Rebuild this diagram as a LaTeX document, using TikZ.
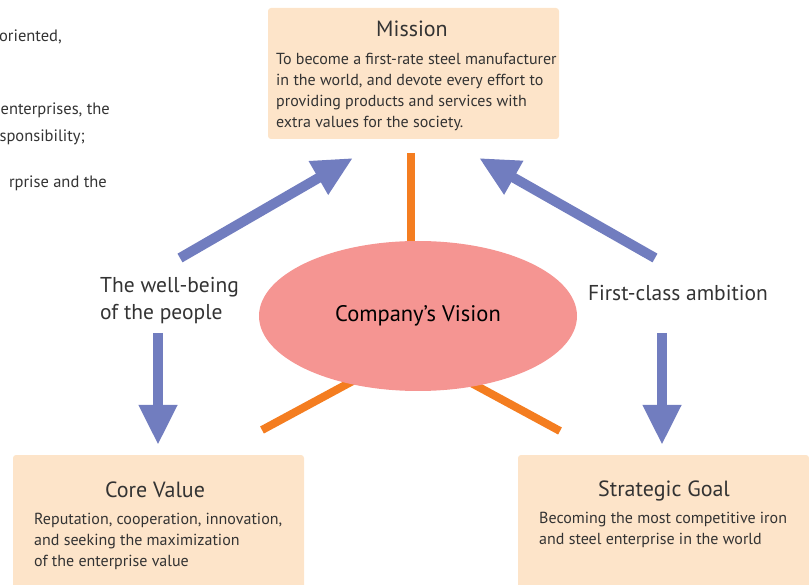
\documentclass[tikz,border=0pt]{standalone}
\usepackage{fontspec}
\setmainfont{PT Sans}
\usetikzlibrary{arrows.meta,shapes.geometric,backgrounds}
\definecolor{boxpeach}{HTML}{FDE4C9}
\definecolor{visionpink}{HTML}{F59592}
\definecolor{linkorange}{HTML}{F47D20}
\definecolor{arrowblue}{HTML}{717DBF}
\definecolor{textgray}{HTML}{333333}

\begin{document}
\begin{tikzpicture}[x=1pt,y=-1pt,
  box node/.style={fill=boxpeach,rounded corners=3pt,minimum width=291pt,minimum height=131pt,inner sep=0pt},
  title node/.style={anchor=base,inner sep=0pt,text=textgray,font=\fontsize{22}{26}\selectfont},
  body node/.style={anchor=base west,inner sep=0pt,align=left,text=textgray,font=\fontsize{16}{21}\selectfont},
  label node/.style={anchor=base west,inner sep=0pt,align=left,text=textgray,font=\fontsize{21.5}{28}\selectfont},
  side node/.style={anchor=base east,inner sep=0pt,text=textgray,font=\fontsize{16.5}{18}\selectfont},
  blue arrow/.style={draw=arrowblue,line width=10pt,-{Triangle[length=40pt,width=36pt]}},
  orange line/.style={draw=linkorange,line width=8pt}]

  \useasboundingbox (0,0) rectangle (809,585);
  \clip (0,0) rectangle (809,585);

  % cut-off text on the left
  \node[side node] (side1) at (62,41.7) {oriented,};
  \node[side node] (side2) at (110,115) {enterprises, the};
  \node[side node] (side3) at (85,141.7) {sponsibility;};
  \node[side node] (side4) at (107,188) {rprise and the};

  % boxes (multi-line texts placed by their last baseline)
  \node[box node] (mission) at (413.5,73.5) {};
  \node[title node] (missiontitle) at (412,37) {Mission};
  \node[body node] (missiontext) at (276,128) {To become a first-rate steel manufacturer\\in the world, and devote every effort to\\providing products and services with\\extra values for the society.};

  \node[box node,minimum height=140pt] (core) at (158.5,525) {};
  \node[title node] (coretitle) at (155,497) {Core Value};
  \node[body node] (coretext) at (34,566) {Reputation, cooperation, innovation,\\and seeking the maximization\\of the enterprise value};

  \node[box node,minimum height=140pt] (goal) at (663.5,525) {};
  \node[title node] (goaltitle) at (664,496) {Strategic Goal};
  \node[body node] (goaltext) at (539,544) {Becoming the most competitive iron\\and steel enterprise in the world};

  % centre
  \node[ellipse,fill=visionpink,minimum width=318pt,minimum height=150pt,inner sep=0pt,
    font=\fontsize{22.5}{26}\selectfont] (vision) at (418,316) {Company’s Vision};

  \coordinate (o1) at (411,153);
  \coordinate (o2) at (262,430);
  \coordinate (o3) at (560,431);
  \begin{pgfonlayer}{background}
    \draw[orange line] (o1) -- (o1 |- vision.north);
    \draw[orange line,shorten >=-8pt] (o2) -- (vision.224);
    \draw[orange line,shorten >=-8pt] (o3) -- (vision.310);
  \end{pgfonlayer}

  % labels and arrows
  \node[label node] (wellbeing) at (100,320) {The well-being\\of the people};
  \node[label node,anchor=base] (ambition) at (678,301) {First-class ambition};

  \coordinate (up1s) at (180,258);
  \coordinate (up1e) at (353,158);
  \coordinate (up2s) at (655,258);
  \coordinate (up2e) at (479,158);
  \coordinate (dn1s) at (158,333);
  \coordinate (dn1e) at (158,445);
  \coordinate (dn2s) at (662,333);
  \coordinate (dn2e) at (662,445);
  \draw[blue arrow] (up1s) -- (up1e);
  \draw[blue arrow] (up2s) -- (up2e);
  \draw[blue arrow] (dn1s) -- (dn1e);
  \draw[blue arrow] (dn2s) -- (dn2e);
\end{tikzpicture}
\end{document}
